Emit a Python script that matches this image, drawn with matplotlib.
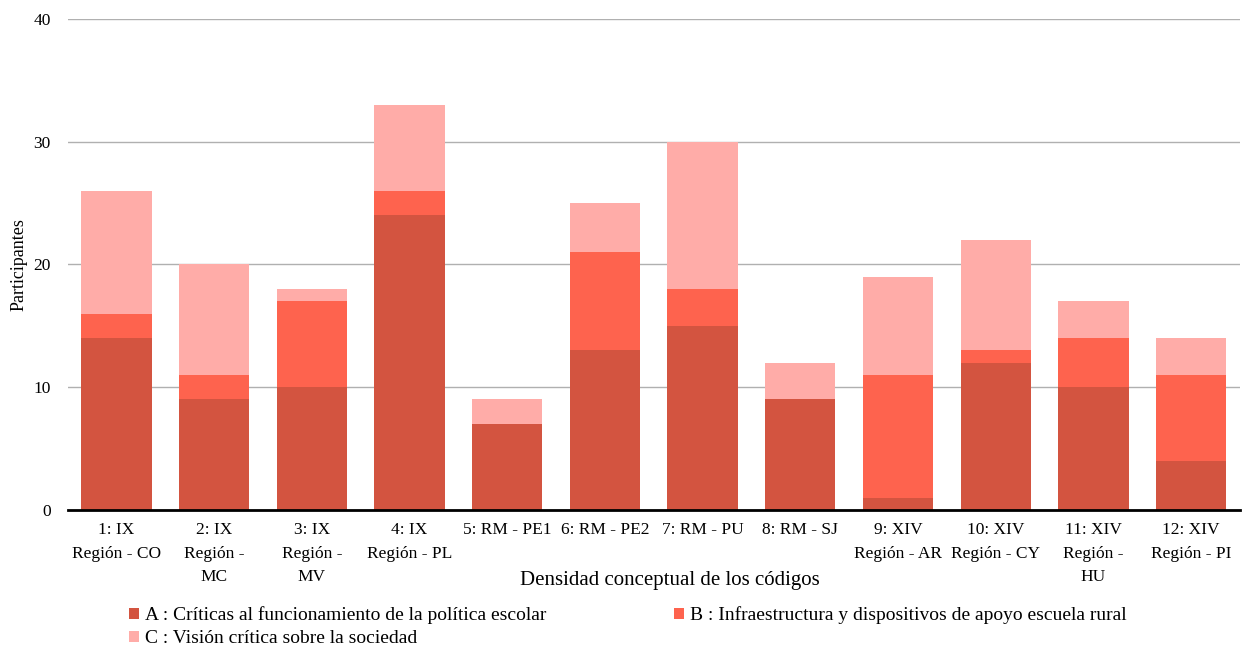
import numpy as np
import matplotlib.pyplot as plt

plt.rcParams['font.family'] = ['Liberation Serif', 'DejaVu Serif']

categories = ['1: IX\nRegión - CO', '2: IX\nRegión -\nMC', '3: IX\nRegión -\nMV',
              '4: IX\nRegión - PL', '5: RM - PE1', '6: RM - PE2', '7: RM - PU',
              '8: RM - SJ', '9: XIV\nRegión - AR', '10: XIV\nRegión - CY',
              '11: XIV\nRegión -\nHU', '12: XIV\nRegión - PI']
serie_a = [14, 9, 10, 24, 7, 13, 15, 9, 1, 12, 10, 4]
serie_b = [2, 2, 7, 2, 0, 8, 3, 0, 10, 1, 4, 7]
serie_c = [10, 9, 1, 7, 2, 4, 12, 3, 8, 9, 3, 3]
labels = ['A : Críticas al funcionamiento de la política escolar',
          'B : Infraestructura y dispositivos de apoyo escuela rural',
          'C : Visión crítica sobre la sociedad']
colors = ['#D35440', '#FE634E', '#FFACA8']

fig = plt.figure(figsize=(12.5, 6.48), dpi=100)
ax = fig.add_axes([0.054, 0.213, 0.938, 0.758])

x = np.arange(len(categories))
a = np.array(serie_a)
b = np.array(serie_b)
c = np.array(serie_c)
w = 0.72
ba = ax.bar(x, a, w, color=colors[0], label=labels[0], zorder=2)
bb = ax.bar(x, b, w, bottom=a, color=colors[1], label=labels[1], zorder=2)
bc = ax.bar(x, c, w, bottom=a + b, color=colors[2], label=labels[2], zorder=2)

ax.set_ylim(0, 40)
ax.set_yticks([0, 10, 20, 30, 40])
ax.set_xlim(-0.5, len(categories) - 0.5)
ax.yaxis.grid(True, color='#b0b0b0', linewidth=1)
ax.set_axisbelow(True)
for s in ['top', 'right', 'left']:
    ax.spines[s].set_visible(False)
ax.spines['bottom'].set_linewidth(2)
ax.spines['bottom'].set_color('black')
ax.tick_params(axis='both', length=0, labelsize=12.5)
ax.tick_params(axis='y', pad=12)
ax.tick_params(axis='x', pad=9)
ax.set_xticks(x)
ax.set_xticklabels(categories, linespacing=1.6)
ax.set_ylabel('Participantes', fontsize=13)
ax.set_xlabel('Densidad conceptual de los códigos', fontsize=15, labelpad=-10)
ax.xaxis.label.set_x(0.514)

# fill legend row-wise: A, B on first row, C below A
fig.legend([ba, bc, bb], [labels[0], labels[2], labels[1]],
           loc='upper left', bbox_to_anchor=(0.097, 0.076), ncol=2, frameon=False,
           fontsize=14, handlelength=0.5, handleheight=0.5, handletextpad=0.3,
           columnspacing=6.6, borderaxespad=0, labelspacing=0.3)

fig.savefig('out.png', dpi=100)
